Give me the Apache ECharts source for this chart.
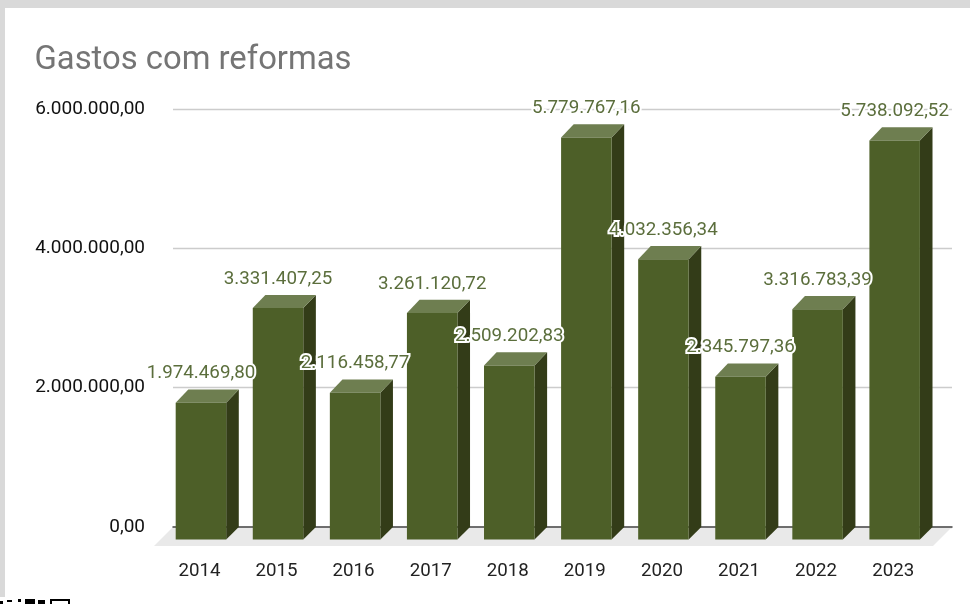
<!DOCTYPE html>
<html>
<head>
<meta charset="utf-8">
<style>html,body{margin:0;padding:0;background:#fff}#c{width:970px;height:604px}</style>
<script src="https://cdn.jsdelivr.net/npm/echarts@6/dist/echarts.min.js"></script>
</head>
<body>
<div id="c"></div>
<script>
var titleText = 'Gastos com reformas';
var years = ['2014','2015','2016','2017','2018','2019','2020','2021','2022','2023'];
var gastos = [1974469.80,3331407.25,2116458.77,3261120.72,2509202.83,5779767.16,4032356.34,2345797.36,3316783.39,5738092.52];
var yTicks = [0,2000000,4000000,6000000];

var DEPTH = 12.6, TOP_DROP = 13.2, BAR_W = 50.5, FLOOR = 19;
var FRONT = '#4d5f28', SIDE = '#333c18', TOP = '#6e7e50', LABEL = '#5b6e3c';

function br(v){
  var s = v.toFixed(2).split('.');
  return s[0].replace(/\B(?=(\d{3})+$)/g,'.') + ',' + s[1];
}
function floorItem(params, api){
  var c = params.coordSys, b = c.y + c.height;
  return {type:'polygon', silent:true, shape:{points:[
    [c.x, b],[c.x + c.width, b],[c.x + c.width - FLOOR, b + FLOOR],[c.x - FLOOR, b + FLOOR]
  ]}, style:{fill:'#e9e9e9'}};
}
function barItem(params, api){
  var p = api.coord([api.value(0), api.value(1)]);
  var p0 = api.coord([api.value(0), 0]);
  var l = p[0] - BAR_W/2, r = p[0] + BAR_W/2, d = DEPTH;
  var t = p[1] + TOP_DROP, b = p0[1] + d, bt = p[1];
  return {type:'group', children:[
    {type:'polygon', shape:{points:[[r,t],[r+d,bt],[r+d,b-d],[r,b]]}, style:{fill:SIDE}},
    {type:'polygon', shape:{points:[[l,t],[l+d,bt],[r+d,bt],[r,t]]}, style:{fill:TOP}},
    {type:'rect', shape:{x:l,y:t,width:BAR_W,height:b-t}, style:{fill:FRONT}}
  ]};
}
function labelItem(params, api){
  var p = api.coord([api.value(0), api.value(1)]);
  return {type:'text', silent:true, style:{
    text: br(api.value(1)), x:p[0], y:p[1]-16, align:'center', verticalAlign:'middle',
    font:'18.8px Roboto', fill:LABEL, stroke:'#fff', lineWidth:4
  }};
}

var chart = echarts.init(document.getElementById('c'), null, {renderer:'canvas'});
chart.setOption({
  animation:false,
  backgroundColor:'#fff',
  title:{text:titleText, left:34.5, top:44, padding:0, textStyle:{fontFamily:'Roboto', fontSize:32.8, fontWeight:'normal', color:'#757575'}},
  graphic:[
    {type:'rect', z:-1, shape:{x:0,y:0,width:970,height:8}, style:{fill:'#d9d9d9'}},
    {type:'rect', z:-1, shape:{x:0,y:0,width:5,height:597}, style:{fill:'#d9d9d9'}},
    {type:'rect', shape:{x:51,y:600,width:18,height:8}, style:{fill:'none',stroke:'#000',lineWidth:2}},
    {type:'rect', shape:{x:0,y:601,width:3,height:3}, style:{fill:'#000'}},
    {type:'rect', shape:{x:7,y:600,width:5,height:2}, style:{fill:'#000'}},
    {type:'rect', shape:{x:18,y:599,width:3,height:3}, style:{fill:'#000'}},
    {type:'rect', shape:{x:25,y:599,width:10,height:5}, style:{fill:'#000'}},
    {type:'rect', shape:{x:38,y:600,width:7,height:4}, style:{fill:'#000'}}
  ],
  grid:[
    {left:173, top:109, width:779, height:418},
    {left:162.4, top:109, width:770.8, height:418}
  ],
  xAxis:[
    {type:'category', gridIndex:0, data:years, show:true, axisLine:{show:true, lineStyle:{color:'#444',width:1.5}}, axisTick:{show:false}, axisLabel:{show:false}, z:1},
    {type:'category', gridIndex:1, data:years, axisLine:{show:false}, axisTick:{show:false},
     axisLabel:{color:'#222', fontFamily:'Roboto', fontSize:18.7, margin:35, padding:[0,3,0,0]}}
  ],
  yAxis:[
    {type:'value', gridIndex:0, min:0, max:6000000, interval:2000000,
     axisLine:{show:false}, axisTick:{show:false},
     axisLabel:{color:'#111', fontFamily:'Roboto', fontSize:19, margin:28, padding:[5,0,0,0], formatter:function(v){return br(v);}},
     splitLine:{lineStyle:{color:'#cccccc', width:1.4}}},
    {type:'value', gridIndex:1, min:0, max:6000000, interval:2000000, show:false, splitLine:{show:false}}
  ],
  series:[
    {type:'custom', xAxisIndex:0, yAxisIndex:0, z:0, renderItem:floorItem, data:[[0,0]], silent:true},
    {type:'custom', xAxisIndex:1, yAxisIndex:1, z:5, renderItem:barItem, data:years.map(function(y,i){return [i,gastos[i]];}), encode:{x:0,y:1}},
    {type:'custom', xAxisIndex:1, yAxisIndex:1, z:10, renderItem:labelItem, data:years.map(function(y,i){return [i,gastos[i]];}), encode:{x:0,y:1}}
  ]
});
</script>
</body>
</html>
